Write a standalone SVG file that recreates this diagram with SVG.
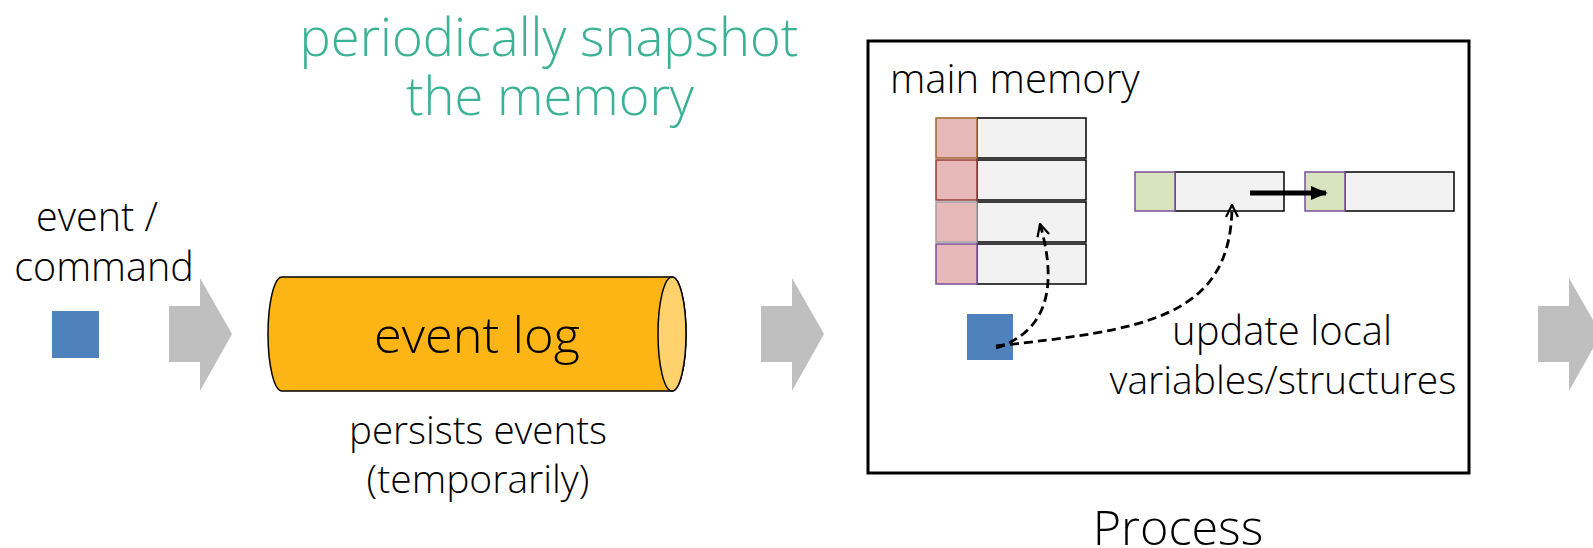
<svg xmlns="http://www.w3.org/2000/svg" width="1593" height="548" viewBox="0 0 1593 548">
<style>
.t{font-family:"Segoe UI Light","Open Sans","Liberation Sans",sans-serif;font-weight:300;fill:#000}
.teal{fill:#3BB295}
.garrow{fill:#BFBFBF}
.blue{fill:#4F81BD}
.cell{fill:#F2F2F2;stroke:#000;stroke-width:1.5}
.pink{fill:#E6B9B8;stroke-width:1.5}
.green{fill:#D7E4BD;stroke:#7B4FA0;stroke-width:1.5}
.dash{fill:none;stroke:#000;stroke-width:2.8;stroke-dasharray:9 5}
</style>
<defs>
<marker id="open" viewBox="0 0 14 14" refX="13" refY="7" markerWidth="14" markerHeight="14" markerUnits="userSpaceOnUse" orient="auto">
<path d="M1,1 L13,7 L1,13" fill="none" stroke="#000" stroke-width="2.2"/>
</marker>
<marker id="solid" viewBox="0 0 10 10" refX="9" refY="5" markerWidth="17" markerHeight="14" markerUnits="userSpaceOnUse" orient="auto" preserveAspectRatio="none">
<path d="M0,0 L10,5 L0,10 Z" fill="#000"/>
</marker>
</defs>

<g id="title">
<text class="t teal" x="549" y="56" font-size="52.5" text-anchor="middle">periodically snapshot</text>
<text class="t teal" x="550" y="115" font-size="52.5" text-anchor="middle">the memory</text>
</g>

<g id="input">
<text class="t" x="97" y="231" font-size="39.5" text-anchor="middle">event /</text>
<text class="t" x="104" y="281" font-size="39.5" text-anchor="middle">command</text>
<rect class="blue" x="52" y="311" width="47" height="47"/>
</g>

<g id="arrow1"><path class="garrow" d="M169,306 H200 V278 L232,334 L200,391 V362 H169 Z"/></g>
<g id="arrow2"><path class="garrow" d="M761,306 H792 V278 L824,334 L792,391 V362 H761 Z"/></g>
<g id="arrow3"><path class="garrow" d="M1538,306 H1569 V278 L1601,334 L1569,391 V362 H1538 Z"/></g>

<g id="eventlog">
<path d="M282,277 L672,277 A14,57 0 0 1 672,391 L282,391 A14,57 0 0 1 282,277 Z" fill="#FDB515" stroke="#000" stroke-width="1.5"/>
<ellipse cx="672" cy="334" rx="14" ry="57" fill="#FFD26E" stroke="#000" stroke-width="1.5"/>
<text class="t" x="477" y="353" font-size="50.5" text-anchor="middle">event log</text>
<text class="t" x="478" y="444" font-size="38.5" text-anchor="middle">persists events</text>
<text class="t" x="478" y="493" font-size="39" text-anchor="middle">(temporarily)</text>
</g>

<g id="process">
<rect x="868" y="41" width="601" height="432" fill="#fff" stroke="#000" stroke-width="3"/>
<text class="t" x="890" y="93" font-size="40">main memory</text>
<text class="t" x="1178" y="545" font-size="48.5" text-anchor="middle">Process</text>
</g>

<g id="memory-table">
<rect class="cell" x="977" y="118" width="109" height="40"/>
<rect class="pink" x="936" y="118" width="41" height="40" stroke="#A0662A"/>
<rect class="cell" x="977" y="160" width="109" height="40"/>
<rect class="pink" x="936" y="160" width="41" height="40" stroke="#953735"/>
<rect class="cell" x="977" y="202" width="109" height="40"/>
<rect class="pink" x="936" y="202" width="41" height="40" stroke="#A0A0A0"/>
<rect class="cell" x="977" y="244" width="109" height="40"/>
<rect class="pink" x="936" y="244" width="41" height="40" stroke="#7B4FA0"/>
</g>

<g id="list-node1">
<rect class="cell" x="1175" y="172" width="109" height="39"/>
<rect class="green" x="1135" y="172" width="40" height="39"/>
</g>
<g id="list-node2">
<rect class="cell" x="1345" y="172" width="109" height="39"/>
<rect class="green" x="1305" y="172" width="40" height="39"/>
</g>

<g id="event-in-process">
<rect class="blue" x="967" y="314" width="46" height="46"/>
</g>

<g id="update-label">
<text class="t" x="1282" y="345" font-size="40" text-anchor="middle">update local</text>
<text class="t" x="1283" y="394" font-size="39" text-anchor="middle">variables/structures</text>
</g>

<g id="connectors">
<line x1="1250" y1="193" x2="1326" y2="193" stroke="#000" stroke-width="5" marker-end="url(#solid)"/>
<path class="dash" d="M996,348 C1052,330 1056,280 1040,224" marker-end="url(#open)"/>
<path class="dash" d="M996,346 C1140,330 1232,320 1232,205" marker-end="url(#open)"/>
</g>
</svg>
